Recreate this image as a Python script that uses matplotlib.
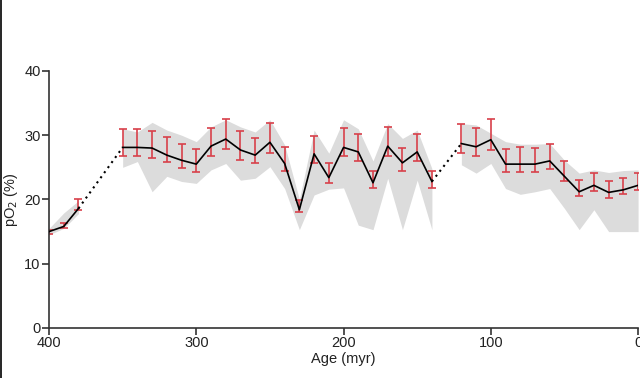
import numpy as np
from matplotlib import pyplot as plt
from matplotlib.lines import Line2D

plt.rcParams['font.family'] = ['Liberation Sans', 'DejaVu Sans']

# three runs of data, gaps at 370-360 and 130 myr are bridged by dotted lines
seg_ages = [
    [400, 390, 380],
    [350, 340, 330, 320, 310, 300, 290, 280, 270, 260, 250, 240, 230, 220,
     210, 200, 190, 180, 170, 160, 150, 140],
    [120, 110, 100, 90, 80, 70, 60, 50, 40, 30, 20, 10, 0],
]
seg_po2 = [
    [15.0, 15.8, 18.6],
    [28.1, 28.1, 28.0, 26.9, 26.1, 25.5, 28.3, 29.4, 27.7, 26.9, 28.9, 25.6,
     18.4, 27.1, 23.4, 28.1, 27.4, 22.6, 28.3, 25.7, 27.4, 22.8],
    [28.7, 28.2, 29.3, 25.5, 25.5, 25.5, 26.0, 23.6, 21.2, 22.2, 21.1, 21.5, 22.2],
]
seg_err_hi = [
    [15.3, 16.4, 20.0],
    [31.0, 31.0, 30.7, 29.7, 28.6, 27.9, 31.1, 32.6, 30.6, 29.6, 31.9, 28.1,
     19.9, 29.9, 25.6, 31.1, 30.2, 24.5, 31.2, 28.0, 30.2, 24.4],
    [31.8, 31.1, 32.5, 27.9, 28.1, 28.0, 28.6, 26.0, 23.0, 24.1, 22.8, 23.4, 24.1],
]
seg_err_lo = [
    [14.6, 15.5, 18.4],
    [26.8, 26.7, 26.5, 25.8, 24.9, 24.3, 26.8, 27.8, 26.2, 25.6, 27.3, 24.5,
     18.1, 25.7, 22.6, 26.7, 26.0, 21.8, 26.8, 24.5, 26.0, 21.8],
    [27.3, 26.8, 27.7, 24.3, 24.3, 24.3, 24.7, 22.9, 20.5, 21.3, 20.3, 20.9, 21.5],
]
seg_band_hi = [
    [15.5, 17.9, 19.8],
    [31.0, 30.5, 32.0, 30.8, 30.0, 29.0, 31.3, 32.4, 31.3, 30.5, 32.4, 28.5,
     20.0, 30.8, 27.2, 32.4, 31.0, 26.0, 31.8, 29.5, 30.8, 24.8],
    [31.8, 31.6, 30.3, 29.0, 28.6, 28.6, 28.7, 26.1, 24.1, 24.6, 24.2, 24.5, 24.6],
]
seg_band_lo = [
    [14.5, 15.5, 17.8],
    [25.0, 25.9, 21.2, 23.6, 22.8, 22.5, 24.6, 25.6, 23.0, 23.3, 25.1, 21.7,
     15.3, 20.7, 21.6, 21.8, 16.0, 15.3, 23.3, 15.3, 23.0, 15.3],
    [25.4, 24.1, 25.6, 21.7, 20.8, 21.2, 21.7, 18.6, 15.3, 18.4, 15.0, 15.0, 15.0],
]

fig = plt.figure(figsize=(6.4, 3.78), dpi=100)
ax = fig.add_axes([0.0766, 0.1323, 0.9204, 0.68])

axis_col = '#333333'
red = '#d8404a'

for i in range(len(seg_ages)):
    x = np.array(seg_ages[i])
    y = np.array(seg_po2[i])
    ax.fill_between(x, seg_band_lo[i], seg_band_hi[i], color='#dcdcdc',
                    lw=0, zorder=1)
    yerr = [y - np.array(seg_err_lo[i]), np.array(seg_err_hi[i]) - y]
    ax.errorbar(x, y, yerr=yerr, fmt='none', ecolor=red, elinewidth=1.2,
                capsize=2.6, capthick=1.2, zorder=2)
    ax.plot(x, y, color='black', lw=1.2, zorder=3)
    # dotted link to next run
    if i < len(seg_ages) - 1:
        ax.plot([seg_ages[i][-1], seg_ages[i + 1][0]],
                [seg_po2[i][-1], seg_po2[i + 1][0]],
                color='black', lw=1.5, ls=(0, (1, 2)), zorder=3)

ax.set_xlim(400, 0)
ax.set_ylim(0, 40)
ax.set_xticks([400, 300, 200, 100, 0])
ax.set_yticks([0, 10, 20, 30, 40])

for s in ['top', 'right']:
    ax.spines[s].set_visible(False)
for s in ['left', 'bottom']:
    ax.spines[s].set_color(axis_col)
    ax.spines[s].set_linewidth(1.2)
ax.tick_params(colors=axis_col, labelcolor='#222222', width=1.2, length=5,
               labelsize=10.5, pad=1)

ax.set_xlabel('Age (myr)', fontsize=10.5, color='#222222', labelpad=1)
ax.set_ylabel('pO$_2$ (%)', fontsize=10.5, color='#222222', labelpad=3)

# thin frame line on left edge of the image
fig.add_artist(Line2D([0.0015, 0.0015], [0, 1], color='black', lw=1.2))

fig.savefig('out.png', dpi=100)
